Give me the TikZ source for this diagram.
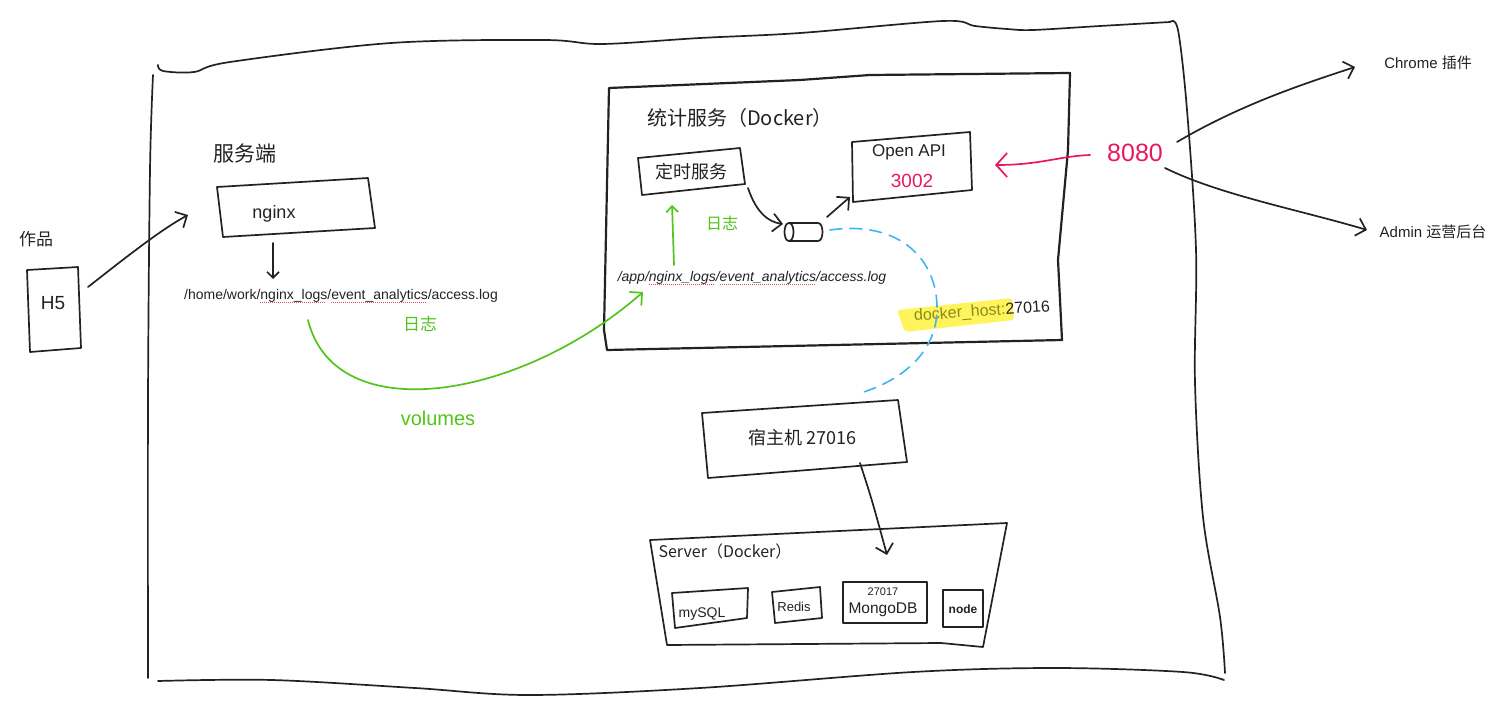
\documentclass[tikz,border=0pt]{standalone}
\usepackage{fontspec}
\setmainfont{Liberation Sans}
\newfontfamily\cjk{Noto Sans CJK SC}
\usetikzlibrary{arrows.meta}
\definecolor{ink}{HTML}{222222}
\definecolor{grn}{HTML}{52C41A}
\definecolor{pnk}{HTML}{E8185F}
\definecolor{sky}{HTML}{3DB5F2}
\definecolor{hl}{HTML}{FFF45C}
\definecolor{olv}{HTML}{8C8C1C}
\definecolor{spell}{HTML}{E05050}
\newcommand\squig[1]{\setbox0\hbox{#1}\rlap{\color{spell}\hbox to \wd0{\leaders\hbox to 2pt{\vrule height -2.2pt depth 3.2pt width 1pt\hss}\hfill}}\box0}
\newcommand\fs[1]{\fontsize{#1}{#1}\selectfont}
\begin{document}
\begin{tikzpicture}[x=1pt,y=-1pt,
  hand/.style={line width=1.7pt, line join=round, line cap=round, draw=ink},
  thick hand/.style={hand, line width=2.2pt},
  arr/.style={hand, -{Straight Barb[length=9pt,width=18pt]}},
  smallarr/.style={hand, -{Straight Barb[length=6pt,width=12pt]}},
  bigarr/.style={hand, -{Straight Barb[length=11pt,width=24pt]}},
  txt/.style={inner sep=0pt, text=ink},
  cn/.style={txt, font=\cjk\fs{#1}},
  lt/.style={txt, font=\fs{#1}}]
\useasboundingbox (0,0) rectangle (1501,706);

% ---------- outer frame ----------
\draw[hand] plot[smooth, tension=0.55] coordinates {(158,65) (163,71) (194,72) (230,62) (391,43) (544,40) (602,44) (700,38) (800,33) (943,21) (975,26) (1007,29) (1033,30) (1100,26) (1170,22)};
\draw[hand] plot[smooth, tension=0.55] coordinates {(1170,22) (1178,30) (1187,110) (1196,250) (1195,383) (1203,517) (1220,617) (1225,673)};
\draw[hand] plot[smooth, tension=0.55] coordinates {(153,75) (150,170) (148,400) (148,678)};
\draw[hand] plot[smooth, tension=0.55] coordinates {(158,681) (272,680) (415,688) (529,695) (700,688) (913,672) (1055,668) (1183,672) (1224,680)};

% ---------- H5 ----------
\draw[hand] (27,270) -- (78,267) -- (81,348) -- (30,352) -- cycle;
\node[cn=17] (zuopin) at (36,239) {作品};
\node[lt=19] (h5) at (53,303) {H5};
\coordinate (h5e) at (88,287);

% ---------- server side ----------
\node[cn=21] (fwd) at (245,154) {服务端};
\draw[hand] (217,187) -- (368,178) -- (375,228) -- (223,237) -- cycle;
\node[lt=18] (nginx) at (274,214) {nginx};
\coordinate (nginxw) at (188,215);
\coordinate (nginxs) at (273,243);
\node[lt=14] (homelog) at (341,296) {/home/work/\squig{nginx\_logs}/\squig{event\_analytics}/access.log};
\coordinate (homelogs) at (308,320);
\node[cn=17, text=grn] (rz1) at (420,324) {日志};
\node[lt=20, text=grn] (volumes) at (438,418) {volumes};

% ---------- stats service (Docker) ----------
\draw[thick hand] (609,88) -- (800,80) -- (870,75) -- (1070,73) -- (1068,150) -- (1058,260) -- (1062,340) -- (607,350) -- (604,330) -- cycle;
\node[cn=20] (tjtitle) at (740,118) {统计服务（Docker）};
\draw[hand] (638,158) -- (740,148) -- (745,184) -- (642,195) -- cycle;
\node[cn=18] (dsfw) at (691,172) {定时服务};
\node[cn=16, text=grn] (rz2) at (722,223) {日志};
\node[txt, font=\itshape\fs{14}] (applog) at (752,278) {/app/\squig{nginx\_logs}/\squig{event\_analytics}/access.log};
\coordinate (applogw) at (643,292);
\coordinate (applogn) at (674,265);
\coordinate (dsfwn) at (672,205);
\coordinate (dsfwse) at (748,188);
% cylinder
\coordinate (cyl) at (804,232);
\draw[hand] (789,223) .. controls (783,223) and (783,241) .. (789,241) .. controls (795,241) and (795,223) .. (789,223);
\draw[hand] (789,223) -- (818,223) .. controls (824,223) and (824,241) .. (818,241) -- (789,241);
\coordinate (cylw) at (783,224);
\coordinate (cylne) at (827,217);
\coordinate (cyle) at (830,230);
% Open API
\draw[hand] (852,142) -- (970,132) -- (972,190) -- (853,202) -- cycle;
\node[lt=17] (openapi) at (909,152) {Open API};
\node[lt=19, text=pnk] (p3002) at (912,181) {3002};
\coordinate (apisw) at (850,197);
\coordinate (apie) at (995,165);
% docker_host highlight
\fill[hl, rounded corners=3pt] (897,310) -- (1012,298) -- (1014,320) -- (905,332) -- cycle;
\node[txt, font=\fs{16}, rotate=4] (dhost) at (982,312) {\textcolor{olv}{docker\_host:}27016};

% ---------- 8080 and clients ----------
\node[lt=25, text=pnk] (p8080) at (1135,153) {8080};
\coordinate (p8080w) at (1090,155);
\coordinate (p8080ne) at (1177,142);
\coordinate (p8080se) at (1165,168);
\node[txt, font=\fs{15}] (chrome) at (1428,63) {Chrome {\cjk 插件}};
\node[txt, font=\fs{15}] (admin) at (1433,232) {Admin {\cjk 运营后台}};
\coordinate (chromew) at (1355,67);
\coordinate (adminw) at (1367,230);

% ---------- host ----------
\draw[hand] (702,413) -- (898,400) -- (907,462) -- (808,470) -- (708,478) -- cycle;
\node[cn=18] (host) at (802,438) {宿主机 27016};
\coordinate (hostn) at (857,394);
\coordinate (hosts) at (860,463);

% ---------- Server (Docker) ----------
\draw[hand] (650,540) -- (1007,523) -- (983,647) -- (941,643) -- (667,645) -- cycle;
\node[cn=16] (srv) at (725,551) {Server（Docker）};
\coordinate (srvn) at (887,555);
\draw[hand] (672,593) -- (748,588) -- (747,618) -- (675,628) -- cycle;
\node[lt=14] (mysql) at (702,614) {mySQL};
\draw[hand] (772,592) -- (820,587) -- (822,618) -- (775,623) -- cycle;
\node[lt=13] (redis) at (794,607) {Redis};
\draw[hand, line width=1.5pt] (843,582) rectangle (927,623);
\node[lt=11] (p27017) at (883,592) {27017};
\node[lt=15.5] (mongo) at (883,610) {MongoDB};
\draw[hand, line width=1.5pt] (943,590) rectangle (983,627);
\node[txt, font=\bfseries\fs{12}] (nodejs) at (963,609) {node};

% ---------- connectors ----------
\draw[arr] (h5e) .. controls (120,262) and (160,230) .. (nginxw);
\draw[smallarr] (nginxs) -- (273,279);
\draw[arr, draw=grn] (homelogs) .. controls (335,430) and (520,400) .. (applogw);
\draw[smallarr, draw=grn] (applogn) -- (dsfwn);
\draw[arr] (dsfwse) .. controls (756,212) and (768,222) .. (cylw);
\draw[arr] (cylne) .. controls (835,210) .. (apisw);
\draw[bigarr, draw=pnk] (p8080w) .. controls (1060,156) and (1040,165) .. (apie);
\draw[arr] (p8080ne) .. controls (1240,105) and (1300,85) .. (chromew);
\draw[arr] (p8080se) .. controls (1220,195) and (1300,210) .. (adminw);
\draw[hand, draw=sky, line width=1.6pt, dash pattern=on 12pt off 8pt] (cyle) .. controls (900,220) and (938,260) .. (937,310) .. controls (936,360) and (890,385) .. (hostn);
\draw[arr] (hosts) .. controls (872,500) .. (srvn);
\end{tikzpicture}
\end{document}
